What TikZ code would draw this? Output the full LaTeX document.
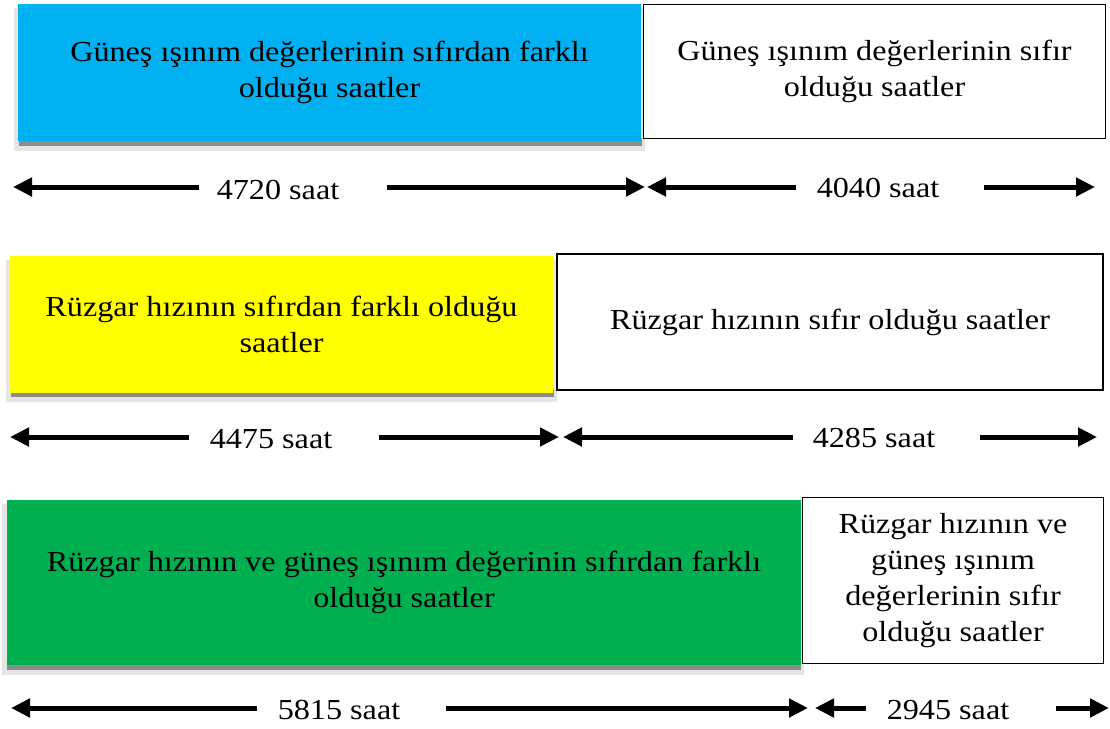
\documentclass[tikz,border=0pt]{standalone}
\usepackage{fontspec}
\setmainfont{Liberation Serif}[FakeStretch=1.11]
\usetikzlibrary{arrows.meta}
\definecolor{cblue}{RGB}{0,176,240}
\definecolor{cyellow}{RGB}{255,255,0}
\definecolor{cgreen}{RGB}{0,176,80}
\tikzset{
  lbl/.style={font=\fontsize{29}{36}\selectfont, align=center, inner sep=0pt},
  whitebox/.style={lbl, draw=black, line width=1.8pt, fill=white},
  arr/.style={line width=5pt, -{Triangle[length=19pt,width=18pt]}},
  shad1/.style={fill=black!10},
  shad2/.style={fill=black!45}
}
\begin{document}
\begin{tikzpicture}[x=1pt,y=-1pt]
\useasboundingbox (0,0) rectangle (1110,728);
\fill[white] (0,0) rectangle (1110,728);

% ---------- Row 1 ----------
\fill[shad1] (14,8) rectangle (645,151);
\fill[shad2] (19,138) rectangle (642,146);
\node[lbl, fill=cblue, minimum width=623pt, minimum height=137pt] (b1) at (329.5,72.5)
  {Güneş ışınım değerlerinin sıfırdan farklı\\olduğu saatler};
\node[whitebox, minimum width=462pt, minimum height=134pt] (w1) at (874.5,71.5)
  {Güneş ışınım değerlerinin sıfır\\olduğu saatler};
\node[lbl] (t1) at (278,190) {4720 saat};
\node[lbl] (t2) at (878,188) {4040 saat};
\coordinate (a1s) at (199,187); \coordinate (a1e) at (13,187);
\coordinate (a2s) at (387,187); \coordinate (a2e) at (645,187);
\coordinate (a3s) at (796,187); \coordinate (a3e) at (647,187);
\coordinate (a4s) at (984,187); \coordinate (a4e) at (1095,187);
\draw[arr] (a1s) -- (a1e);
\draw[arr] (a2s) -- (a2e);
\draw[arr] (a3s) -- (a3e);
\draw[arr] (a4s) -- (a4e);

% ---------- Row 2 ----------
\fill[shad1] (6,260) rectangle (557,402);
\fill[shad2] (11,389) rectangle (554,397);
\node[lbl, fill=cyellow, minimum width=543pt, minimum height=137pt] (b2) at (281.5,324.5)
  {Rüzgar hızının sıfırdan farklı olduğu\\saatler};
\node[whitebox, minimum width=546pt, minimum height=136pt] (w2) at (830,322)
  {Rüzgar hızının sıfır olduğu saatler};
\node[lbl] (t3) at (271,439) {4475 saat};
\node[lbl] (t4) at (874,438) {4285 saat};
\coordinate (b1s) at (189,437); \coordinate (b1e) at (10,437);
\coordinate (b2s) at (379,437); \coordinate (b2e) at (559,437);
\coordinate (b3s) at (793,437); \coordinate (b3e) at (563,437);
\coordinate (b4s) at (980,437); \coordinate (b4e) at (1097,437);
\draw[arr] (b1s) -- (b1e);
\draw[arr] (b2s) -- (b2e);
\draw[arr] (b3s) -- (b3e);
\draw[arr] (b4s) -- (b4e);

% ---------- Row 3 ----------
\fill[shad1] (2,504) rectangle (804,675);
\fill[shad2] (7,662) rectangle (801,670);
\node[lbl, fill=cgreen, minimum width=794pt, minimum height=165pt] (b3) at (404,582.5)
  {Rüzgar hızının ve güneş ışınım değerinin sıfırdan farklı\\olduğu saatler};
\node[whitebox, minimum width=301pt, minimum height=166pt] (w3) at (953,580.5)
  {Rüzgar hızının ve\\güneş ışınım\\değerlerinin sıfır\\olduğu saatler};
\node[lbl] (t5) at (339,710) {5815 saat};
\node[lbl] (t6) at (948,710) {2945 saat};
\coordinate (c1s) at (257,708); \coordinate (c1e) at (11,708);
\coordinate (c2s) at (446,708); \coordinate (c2e) at (808,708);
\coordinate (c3s) at (866,708); \coordinate (c3e) at (815,708);
\coordinate (c4s) at (1056,708); \coordinate (c4e) at (1109,708);
\draw[arr] (c1s) -- (c1e);
\draw[arr] (c2s) -- (c2e);
\draw[arr] (c3s) -- (c3e);
\draw[arr] (c4s) -- (c4e);
\end{tikzpicture}
\end{document}
